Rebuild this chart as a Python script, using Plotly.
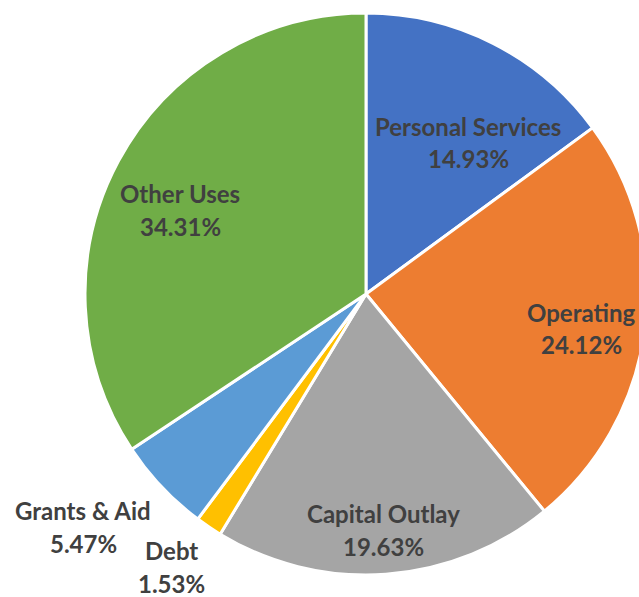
import plotly.graph_objects as go

# Budget shares by category (percent)
categories = ["Personal Services", "Operating", "Capital Outlay", "Debt", "Grants & Aid", "Other Uses"]
shares = [14.93, 24.12, 19.63, 1.53, 5.47, 34.31]
colors = ["#4472C4", "#ED7D31", "#A5A5A5", "#FFC000", "#5B9BD5", "#70AD47"]

# label anchor points in pixels (centre of the category line)
label_pos = [(468, 126), (581, 312), (383, 513), (171, 550), (83, 510), (180, 193)]

# a bit wider than the window so the pie runs off the right edge like the original
W, H = 660, 597

fig = go.Figure()
fig.add_trace(go.Pie(
    labels=categories,
    values=shares,
    sort=False,
    direction="clockwise",
    rotation=0,
    marker=dict(colors=colors, line=dict(color="white", width=3)),
    textinfo="none",
    hoverinfo="label+percent",
    domain=dict(x=[85 / W, 647 / W], y=[1 - 575 / H, 1 - 13 / H]),
))

for cat, val, (px, py) in zip(categories, shares, label_pos):
    for i, txt in enumerate([cat, f"{val:.2f}%"]):
        fig.add_annotation(
            x=px / W, y=1 - (py + 33 * i) / H,
            xref="paper", yref="paper",
            text=txt, showarrow=False,
            xanchor="center", yanchor="middle",
            font=dict(family="Lato", size=24, color="#404040", weight="bold"),
        )

fig.update_layout(
    width=W, height=H,
    margin=dict(l=0, r=0, t=0, b=0),
    paper_bgcolor="white",
    plot_bgcolor="white",
    showlegend=False,
)

# no page margin / scrollbars, no modebar
fig.write_html(
    "out.html",
    config={"displayModeBar": False},
    post_script="document.body.style.margin='0';document.body.style.overflow='hidden';",
)
